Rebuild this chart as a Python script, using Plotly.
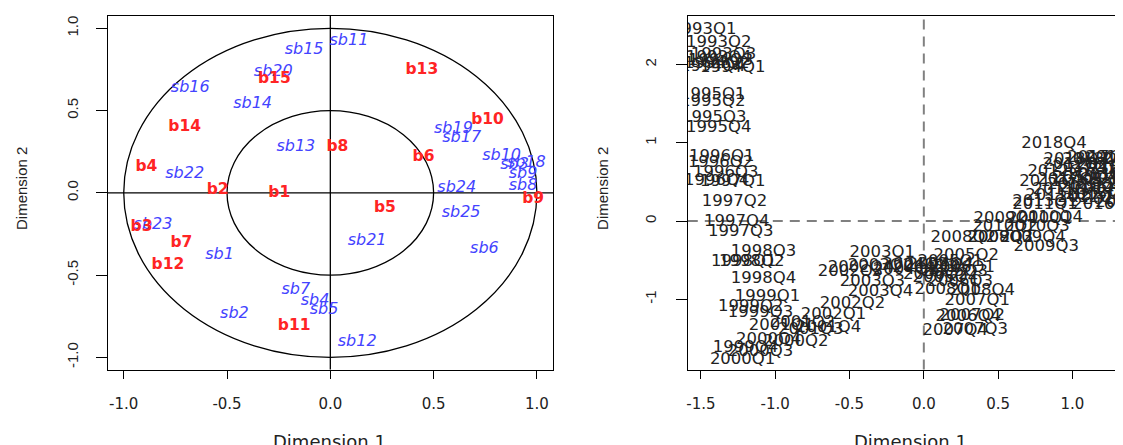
import plotly.graph_objects as go

# ---------------- Left panel: correlation circle ----------------
red_labels = ["b1", "b2", "b3", "b4", "b5", "b6", "b7", "b8", "b9", "b10",
              "b11", "b12", "b13", "b14", "b15"]
red_x = [-0.247, -0.545, -0.914, -0.890, 0.264, 0.451, -0.721, 0.034, 0.982, 0.761,
         -0.175, -0.786, 0.443, -0.705, -0.271]
red_y = [-0.003, 0.017, -0.206, 0.159, -0.094, 0.219, -0.307, 0.280, -0.040, 0.443,
         -0.810, -0.439, 0.747, 0.402, 0.692]

blue_labels = ["sb1", "sb2", "sb3", "sb4", "sb5", "sb6", "sb7", "sb8", "sb9", "sb10",
               "sb11", "sb12", "sb13", "sb14", "sb15", "sb16", "sb17", "sb18", "sb19", "sb20",
               "sb21", "sb22", "sb23", "sb24", "sb25"]
blue_x = [-0.536, -0.464, 0.892, -0.074, -0.030, 0.746, -0.167, 0.933, 0.933, 0.829,
          0.090, 0.130, -0.167, -0.376, -0.127, -0.678, 0.636, 0.949, 0.596, -0.276,
          0.178, -0.705, -0.858, 0.612, 0.633]
blue_y = [-0.378, -0.737, 0.169, -0.656, -0.712, -0.344, -0.591, 0.040, 0.114, 0.226,
          0.925, -0.909, 0.277, 0.540, 0.868, 0.635, 0.335, 0.181, 0.386, 0.736,
          -0.293, 0.114, -0.196, 0.027, -0.121]

# ---------------- Right panel: quarterly scores ----------------
quarters = [f"{yr}Q{q}" for yr in range(1993, 2019) for q in range(1, 5)]
q_x = [
    -1.481, -1.380, -1.347, -1.380,   # 1993
    -1.286, -1.393, -1.367, -1.420,   # 1994
    -1.420, -1.420, -1.414, -1.380,   # 1995
    -1.360, -1.367, -1.333, -1.394,   # 1996
    -1.286, -1.273, -1.232, -1.259,   # 1997
    -1.212, -1.158, -1.078, -1.078,   # 1998
    -1.051, -1.165, -1.098, -1.199,   # 1999
    -1.219, -0.862, -1.098, -1.044,   # 2000
    -0.957, -0.816, -0.760, -0.641,   # 2001
    -0.608, -0.480, -0.494, -0.426,   # 2002
    -0.279, -0.292, -0.346, -0.292,   # 2003
    -0.124, -0.057, 0.010, 0.111,     # 2004
    0.178, 0.285, 0.212, 0.144,       # 2005
    0.259, 0.080, 0.245, 0.299,       # 2006
    0.359, 0.326, 0.346, 0.212,       # 2007
    0.158, 0.265, 0.514, 0.393,       # 2008
    0.554, 0.514, 0.823, 0.735,       # 2009
    0.782, 0.547, 0.762, 0.850,       # 2010
    0.816, 0.903, 0.863, 0.951,       # 2011
    0.917, 1.018, 1.051, 1.118,       # 2012
    0.816, 1.152, 1.185, 1.085,       # 2013
    1.219, 1.253, 1.286, 1.320,       # 2014
    1.353, 1.387, 1.172, 1.420,       # 2015
    1.454, 1.307, 1.373, 1.219,       # 2016
    1.085, 1.185, 0.984, 1.487,       # 2017
    1.132, 1.266, 1.025, 0.876,       # 2018
]
q_y = [
    2.442, 2.280, 2.123, 2.084,
    1.957, 2.008, 2.046, 1.969,
    1.611, 1.522, 1.317, 1.189,
    0.818, 0.742, 0.614, 0.512,
    0.499, 0.243, -0.141, -0.013,
    -0.524, -0.524, -0.396, -0.742,
    -0.972, -1.100, -1.176, -1.624,
    -1.777, -1.548, -1.675, -1.522,
    -1.343, -1.300, -1.390, -1.372,
    -1.202, -1.061, -0.652, -0.601,
    -0.409, -0.575, -0.780, -0.908,
    -0.627, -0.563, -0.601, -0.563,
    -0.524, -0.448, -0.652, -0.729,
    -0.601, -0.690, -0.780, -1.228,
    -1.023, -1.215, -1.394, -1.407,
    -0.882, -0.217, -0.217, -0.895,
    0.026, -0.217, -0.332, -0.217,
    0.026, -0.077, -0.077, 0.040,
    0.205, 0.320, 0.499, 0.396,
    0.627, 0.716, 0.460, 0.294,
    0.243, 0.780, 0.588, 0.550,
    0.396, 0.716, 0.269, 0.524,
    0.652, 0.371, 0.332, 0.780,
    0.460, 0.806, 0.230, 0.205,
    0.678, 0.806, 0.524, 0.588,
    0.422, 0.575, 0.780, 0.985,
]

left_ticks = [-1.0, -0.5, 0.0, 0.5, 1.0]
left_ticktext = ["-1.0", "-0.5", "0.0", "0.5", "1.0"]
right_xticks = [-1.5, -1.0, -0.5, 0.0, 0.5, 1.0, 1.5]
right_xticktext = ["-1.5", "-1.0", "-0.5", "0.0", "0.5", "1.0", "1.5"]
right_yticks = [-1, 0, 1, 2]
right_yticktext = ["-1", "0", "1", "2"]

RED = "#FF2424"
BLUE = "#4343FF"
TXT = "#222222"

fig = go.Figure()

fig.add_trace(go.Scatter(
    x=blue_x, y=blue_y, text=blue_labels, mode="text",
    textfont=dict(family="DejaVu Sans", size=16, color=BLUE, style="italic"),
    xaxis="x", yaxis="y", hoverinfo="skip"))
fig.add_trace(go.Scatter(
    x=red_x, y=red_y, text=red_labels, mode="text",
    textfont=dict(family="DejaVu Sans", size=15.5, color=RED, weight="bold"),
    xaxis="x", yaxis="y", hoverinfo="skip"))
fig.add_trace(go.Scatter(
    x=q_x, y=q_y, text=quarters, mode="text",
    textfont=dict(family="DejaVu Sans", size=16.5, color=TXT),
    xaxis="x2", yaxis="y2", hoverinfo="skip"))

shapes = [
    dict(type="circle", xref="x", yref="y", x0=-1, y0=-1, x1=1, y1=1,
         line=dict(color="black", width=1.3), layer="below"),
    dict(type="circle", xref="x", yref="y", x0=-0.5, y0=-0.5, x1=0.5, y1=0.5,
         line=dict(color="black", width=1.3), layer="below"),
    dict(type="line", xref="x domain", yref="y", x0=0, x1=1, y0=0, y1=0,
         line=dict(color="black", width=1.3), layer="below"),
    dict(type="line", xref="x", yref="y domain", x0=0, x1=0, y0=0, y1=1,
         line=dict(color="black", width=1.3), layer="below"),
    dict(type="line", xref="x2 domain", yref="y2", x0=0, x1=1, y0=0, y1=0,
         line=dict(color="#808080", width=2, dash="10px,7px"), layer="below"),
    dict(type="line", xref="x2", yref="y2 domain", x0=0, x1=0, y0=0, y1=1,
         line=dict(color="#808080", width=2, dash="10px,7px"), layer="below"),
]

# page body has an 8px margin; figure pixels = reference pixels - 8
OFF = 8
W, H = 1123 - OFF, 445 - OFF
ydom = [1 - (369.5 - OFF) / H, 1 - (15.5 - OFF) / H]

axis_common = dict(showgrid=False, zeroline=False, showline=True, linecolor="black",
                   linewidth=1.3, ticks="outside", tickcolor="black", tickwidth=1.2)

fig.update_layout(
    width=W, height=H,
    margin=dict(l=0, r=0, t=0, b=0),
    paper_bgcolor="white", plot_bgcolor="white",
    showlegend=False,
    shapes=shapes,
    xaxis=dict(domain=[(106 - OFF) / W, (552 - OFF) / W], range=[-1.077, 1.078], mirror=True,
               tickvals=left_ticks, ticktext=left_ticktext, ticklen=8,
               ticklabelstandoff=12,
               tickfont=dict(family="DejaVu Sans", size=15, color=TXT),
               anchor="y", **axis_common),
    yaxis=dict(domain=ydom, range=[-1.074, 1.078], mirror=True,
               tickvals=left_ticks, ticktext=left_ticktext, ticklen=11,
               tickangle=-90, ticklabelstandoff=12,
               tickfont=dict(family="Liberation Sans", size=15, color=TXT),
               anchor="x", **axis_common),
    xaxis2=dict(domain=[(687 - OFF) / W, 1.0], range=[-1.588, 1.34], mirror=True,
                tickvals=right_xticks, ticktext=right_xticktext, ticklen=8,
                ticklabelstandoff=12,
                tickfont=dict(family="DejaVu Sans", size=15, color=TXT),
                anchor="y2", **axis_common),
    yaxis2=dict(domain=ydom, range=[-1.899, 2.628], mirror=False,
                tickvals=right_yticks, ticktext=right_yticktext, ticklen=11,
                tickangle=-90, ticklabelstandoff=14,
                tickfont=dict(family="Liberation Sans", size=15, color=TXT),
                anchor="x2", **axis_common),
)

annotations = [
    dict(text="Dimension 1", x=(328 - OFF) / W, y=1 - (441 - OFF) / H, xref="paper", yref="paper",
         showarrow=False, xanchor="center", yanchor="middle",
         font=dict(family="DejaVu Sans", size=18, color=TXT)),
    dict(text="Dimension 1", x=(910 - OFF) / W, y=1 - (441 - OFF) / H, xref="paper", yref="paper",
         showarrow=False, xanchor="center", yanchor="middle",
         font=dict(family="DejaVu Sans", size=18, color=TXT)),
    dict(text="Dimension 2", x=(19 - OFF) / W, y=1 - (188 - OFF) / H, xref="paper", yref="paper",
         showarrow=False, xanchor="center", yanchor="middle", textangle=-90,
         font=dict(family="Liberation Sans", size=15, color=TXT)),
    dict(text="Dimension 2", x=(601 - OFF) / W, y=1 - (188 - OFF) / H, xref="paper", yref="paper",
         showarrow=False, xanchor="center", yanchor="middle", textangle=-90,
         font=dict(family="Liberation Sans", size=15, color=TXT)),
]
fig.update_layout(annotations=annotations)

fig.write_html("out.html")
